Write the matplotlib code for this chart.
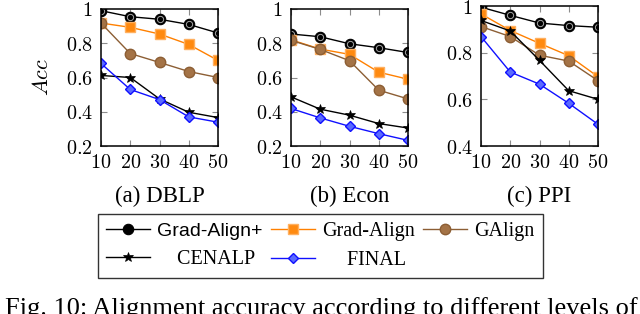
import matplotlib
matplotlib.use("Agg")
import matplotlib.pyplot as plt
from matplotlib.ticker import FixedLocator, FixedFormatter

plt.rcParams['mathtext.fontset'] = 'cm'

x = [10, 20, 30, 40, 50]
methods = ["Grad-Align+", "Grad-Align", "GAlign", "CENALP", "FINAL"]

dblp = {
    "Grad-Align+": [0.99, 0.955, 0.94, 0.91, 0.86],
    "Grad-Align": [0.918, 0.893, 0.854, 0.793, 0.70],
    "GAlign": [0.918, 0.74, 0.688, 0.635, 0.60],
    "CENALP": [0.612, 0.60, 0.475, 0.397, 0.366],
    "FINAL": [0.682, 0.53, 0.471, 0.37, 0.339],
}
econ = {
    "Grad-Align+": [0.854, 0.838, 0.797, 0.774, 0.746],
    "Grad-Align": [0.82, 0.766, 0.735, 0.631, 0.59],
    "GAlign": [0.817, 0.764, 0.698, 0.526, 0.475],
    "CENALP": [0.487, 0.415, 0.38, 0.331, 0.305],
    "FINAL": [0.419, 0.364, 0.315, 0.272, 0.233],
}
ppi = {
    "Grad-Align+": [0.995, 0.96, 0.927, 0.916, 0.909],
    "Grad-Align": [0.966, 0.895, 0.84, 0.787, 0.697],
    "GAlign": [0.912, 0.869, 0.789, 0.764, 0.68],
    "CENALP": [0.938, 0.893, 0.767, 0.637, 0.60],
    "FINAL": [0.869, 0.717, 0.665, 0.583, 0.493],
}
datasets = [dblp, econ, ppi]
captions = ["(a) DBLP", "(b) Econ", "(c) PPI"]
yticks = [[0.2, 0.4, 0.6, 0.8, 1.0], [0.2, 0.4, 0.6, 0.8, 1.0], [0.4, 0.6, 0.8, 1.0]]
ylims = [(0.2, 1.0), (0.2, 1.0), (0.4, 1.0)]
ytick_labels = [["0.2", "0.4", "0.6", "0.8", "1"], ["0.2", "0.4", "0.6", "0.8", "1"], ["0.4", "0.6", "0.8", "1"]]
xtick_labels = ["10", "20", "30", "40", "50"]

styles = {
    "Grad-Align+": dict(color="black", marker="o", ms=7.5, mfc="black", mec="black", mew=0.8, lw=1.0),
    "Grad-Align": dict(color="#ff8000", marker="s", ms=7.5, mfc="#ff8a10", mec="#ffb060", mew=1.0, lw=1.0),
    "GAlign": dict(color="#8c5e34", marker="o", ms=7.5, mfc="#a47346", mec="#8c5e34", mew=1.0, lw=1.0),
    "CENALP": dict(color="black", marker="*", ms=7, mfc="black", mec="black", mew=0.5, lw=1.0),
    "FINAL": dict(color="#1010ff", marker="D", ms=5.5, mfc="#5a6aff", mec="#1010ff", mew=1.0, lw=1.0),
}

fig = plt.figure(figsize=(6.4, 3.14), dpi=100)
W, H = 640, 314
lefts = [101, 291, 481]
tops = [9, 9, 6]
bottom_px = 146
width_px = 117

handles = {}
for i, data in enumerate(datasets):
    ax = fig.add_axes([lefts[i] / W, 1 - bottom_px / H, width_px / W, (bottom_px - tops[i]) / H])
    for m in methods:
        ln, = ax.plot(x, data[m], label=m, **styles[m])
        if m == "Grad-Align+":
            ax.plot(x, data[m], linestyle="none", marker="o", ms=4.5, mfc="black", mec="0.65", mew=0.7)
        if i == 0:
            handles[m] = ln
    ax.set_xlim(10, 50)
    ax.set_ylim(*ylims[i])
    ax.xaxis.set_major_locator(FixedLocator(x))
    ax.xaxis.set_major_formatter(FixedFormatter(["$%s$" % t for t in xtick_labels]))
    ax.yaxis.set_major_locator(FixedLocator(yticks[i]))
    ax.yaxis.set_major_formatter(FixedFormatter(["$%s$" % t for t in ytick_labels[i]]))
    ax.tick_params(direction="in", top=True, right=True, length=4, width=0.8,
                   color="0.55", labelsize=14.5)
    ax.tick_params(axis="x", pad=5)
    ax.tick_params(axis="y", pad=6)
    for s in ax.spines.values():
        s.set_linewidth(1.1)
    fig.text((lefts[i] + width_px / 2) / W, 1 - 186 / H, captions[i], ha="center", va="top",
             fontsize=16.5, family="Liberation Serif")
    if i == 0:
        ax.set_ylabel("$Acc$", fontsize=16, labelpad=10)

# matplotlib fills legend columns first; order so rows read like the reference
order = ["Grad-Align+", "CENALP", "Grad-Align", "FINAL", "GAlign"]
disp = {"Grad-Align+": "Grad-Align+", "Grad-Align": "Grad-Align", "GAlign": "GAlign",
        "CENALP": "    CENALP", "FINAL": "     FINAL"}
leg = fig.legend([handles[m] for m in order], [disp[m] for m in order], ncol=3, loc="upper left",
                 bbox_to_anchor=(98 / W, 1 - 214 / H), borderaxespad=0,
                 frameon=True, fancybox=False, edgecolor="black",
                 handlelength=2.2, handletextpad=0.35, columnspacing=0.4,
                 borderpad=0.4, labelspacing=0.5,
                 prop={"family": "Liberation Serif", "size": 14.5})
leg.get_frame().set_linewidth(1.0)
leg.get_texts()[0].set_family("Liberation Sans")
leg.get_texts()[0].set_fontsize(14)

fig.text(5 / W, 1 - 297 / H, "Fig. 10: Alignment accuracy according to different levels of",
         ha="left", va="top", fontsize=19, family="Liberation Serif")

fig.savefig("out.png", dpi=100)
